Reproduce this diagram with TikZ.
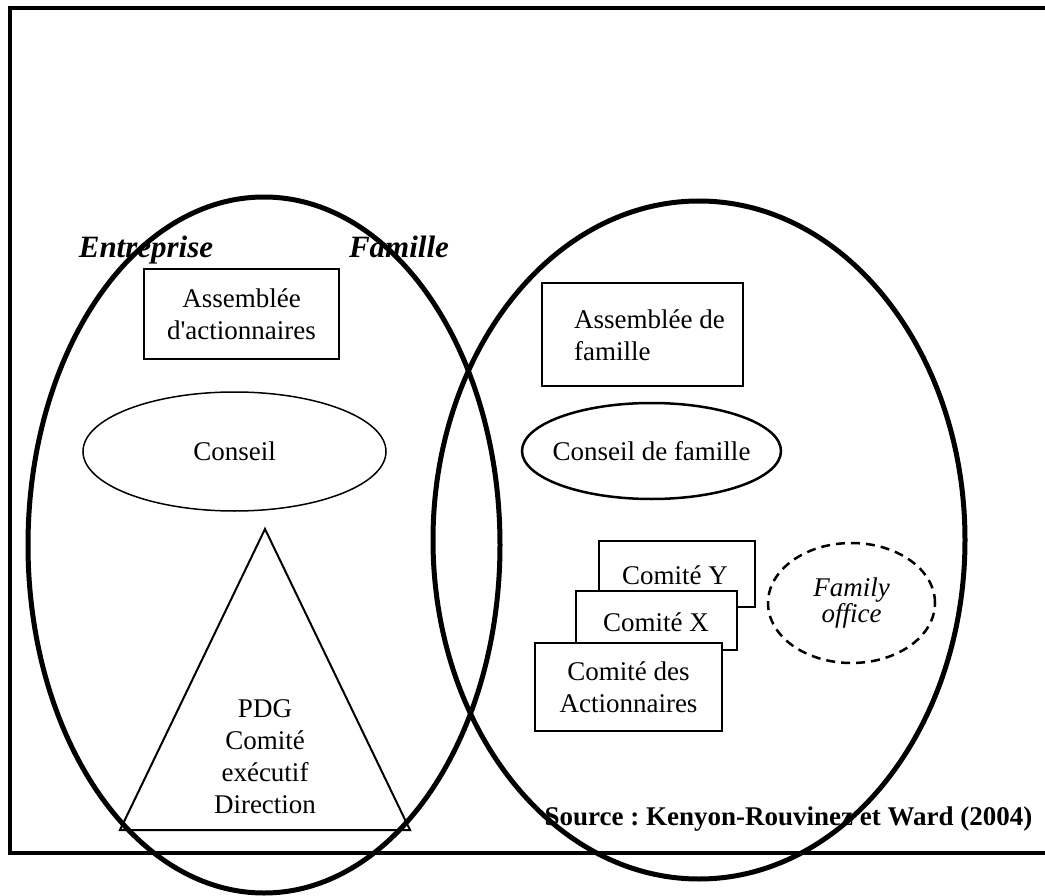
\documentclass[tikz,border=0pt]{standalone}
\usepackage{fontspec}
\setmainfont{Liberation Serif}
\usetikzlibrary{shapes.geometric}
\frenchspacing
\begin{document}
\begin{tikzpicture}[x=1pt,y=-1pt,
  every node/.style={font=\fontsize{27}{32}\selectfont, inner sep=0pt},
  frameline/.style={line width=4pt},
  bigell/.style={ellipse, draw, line width=5pt},
  titletext/.style={font=\fontsize{31}{36}\selectfont\bfseries\itshape, anchor=base},
  boxA/.style={draw, line width=2pt, align=center},
  boxC/.style={draw, line width=2.5pt, fill=white, align=center},
  smallell/.style={ellipse, draw},
  dashell/.style={ellipse, draw, line width=2.5pt, dash pattern=on 9pt off 6pt, align=center, font=\fontsize{27}{30}\selectfont\itshape}
]
\useasboundingbox (0,0) rectangle (1045,896);
% frame
\coordinate (fTR) at (1050,8);
\coordinate (fTL) at (9.5,8);
\coordinate (fBL) at (9.5,853);
\coordinate (fBR) at (1050,853);
\draw[frameline, line join=miter] (fTR) -- (fTL) -- (fBL) -- (fBR);

% titles
\node[titletext] (ent) at (146,258) {Entreprise};
\node[titletext] (fam) at (399,258) {Famille};

% big ellipses
\node[bigell, minimum width=472pt, minimum height=696pt] (Lell) at (264,545) {};
\node[bigell, minimum width=532pt, minimum height=678pt] (Rell) at (699,540) {};

% left side
\node[boxA, minimum width=195pt, minimum height=90pt] (aact) at (241.5,314) {Assemblée\\d\textquotesingle actionnaires};
\node[smallell, line width=1.5pt, minimum width=303pt, minimum height=119pt] (cons) at (234.5,451.5) {\makebox[0pt]{Conseil}};
\coordinate (tA) at (265,529);
\coordinate (tL) at (120,830);
\coordinate (tR) at (410,830);
\draw[line width=2pt] (tA) -- (tL) -- (tR) -- cycle;
\node[align=center] (pdg) at (265,757) {PDG\\Comité\\exécutif\\Direction};

% right side
\node[draw, line width=2.5pt, minimum width=201pt, minimum height=103pt] (afam) at (642.5,334.5) {};
\node[anchor=west, align=left] (afamt) at (574,335) {Assemblée de\\famille};
\node[smallell, line width=2.5pt, minimum width=259pt, minimum height=96pt] (cfam) at (651.5,451) {\makebox[0pt]{Conseil de famille}};

\node[boxC, minimum width=156pt, minimum height=66pt] (cy) at (677,574) {};
\node (cyt) at (675,575) {Comité Y};
\node[boxC, minimum width=161pt, minimum height=59pt] (cx) at (656.5,620.5) {};
\node (cxt) at (656,622) {Comité X};
\node[boxC, minimum width=187pt, minimum height=88pt] (cact) at (628.5,687) {Comité des\\Actionnaires};

\node[dashell, minimum width=167pt, minimum height=120pt] (fo) at (851.5,603) {\makebox[0pt]{\shortstack{Family\\[-2pt]office}}};

\node[font=\fontsize{27}{32}\selectfont\bfseries, anchor=base] (src) at (788.5,825) {Source : Kenyon-Rouvinez et Ward (2004)};
\end{tikzpicture}
\end{document}
